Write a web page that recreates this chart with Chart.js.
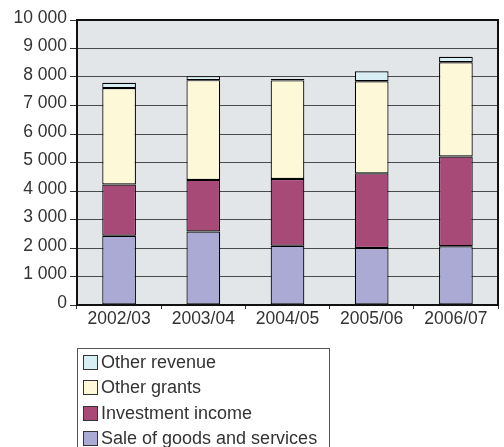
<!DOCTYPE html>
<html>
<head>
<meta charset="utf-8">
<script src="https://cdn.jsdelivr.net/npm/chart.js@4"></script>
<style>
  html, body { margin: 0; padding: 0; background: #fff; }
  #wrap { position: relative; width: 504px; height: 447px; overflow: hidden; }
  #legend {
    position: absolute; left: 77px; top: 348px; width: 253px; height: 120px;
    border: 1px solid #555; box-sizing: border-box; padding-top: 1px;
    font-family: "Liberation Sans", Arial, sans-serif; font-size: 18px; color: #333;
  }
  .item { height: 25.3px; display: flex; align-items: center; padding-left: 5px; }
  .swatch { width: 13px; height: 13px; border: 1px solid #333; margin-right: 3px; }
</style>
</head>
<body>
<div id="wrap">
  <canvas id="chart" width="504" height="447"></canvas>
  <div id="legend"></div>
</div>
<script>
// données
const categories = ['2002/03', '2003/04', '2004/05', '2005/06', '2006/07'];
const saleOfGoods = [2430, 2580, 2080, 2000, 2060];
const investmentIncome = [1800, 1810, 2340, 2620, 3150];
const otherGrants = [3380, 3500, 3460, 3230, 3310];
const otherRevenue = [190, 140, 50, 350, 190];
const yTicks = [0, 1000, 2000, 3000, 4000, 5000, 6000, 7000, 8000, 9000, 10000];

const FONT = '"Liberation Sans", Arial, sans-serif';
const TEXT = '#333';

function fmt(v) {
    return String(v).replace(/\B(?=(\d{3})+(?!\d))/g, ' ');
}

// fond gris + cadre noir autour de la zone de tracé
const framePlugin = {
    id: 'frame',
    beforeDraw(chart) {
        const a = chart.chartArea, c = chart.ctx;
        c.save();
        c.fillStyle = '#e3e6e8';
        c.fillRect(a.left, a.top, a.right - a.left, a.bottom - a.top);
        c.restore();
    },
    afterDraw(chart) {
        const a = chart.chartArea, c = chart.ctx;
        c.save();
        c.strokeStyle = '#111';
        c.lineWidth = 2;
        c.strokeRect(a.left, a.top, a.right - a.left, a.bottom - a.top);
        c.restore();
    }
};

const bar = (label, data, color) => ({
    label, data,
    backgroundColor: color,
    borderColor: '#000',
    borderWidth: 1.2,
    borderSkipped: false,
    barPercentage: 0.4,
    categoryPercentage: 1.0
});

const chart = new Chart(document.getElementById('chart'), {
    type: 'bar',
    data: {
        labels: categories,
        datasets: [
            bar('Sale of goods and services', saleOfGoods, '#aaaad4'),
            bar('Investment income', investmentIncome, '#a84a78'),
            bar('Other grants', otherGrants, '#fcf8d8'),
            bar('Other revenue', otherRevenue, '#d6eef4')
        ]
    },
    options: {
        responsive: false,
        animation: false,
        layout: { padding: { top: 20, right: 6, bottom: 117, left: 0 } },
        plugins: { legend: { display: false }, tooltip: { enabled: false } },
        scales: {
            x: {
                stacked: true,
                offset: true,
                grid: { offset: true, drawOnChartArea: false, drawTicks: true, tickLength: 4, color: '#333' },
                border: { display: true, color: '#111', width: 2 },
                ticks: { color: TEXT, font: { family: FONT, size: 17.5 }, padding: 0, maxRotation: 0 }
            },
            y: {
                stacked: true,
                min: 0,
                max: 10000,
                afterBuildTicks: (s) => { s.ticks = yTicks.map(v => ({ value: v })); },
                afterFit: (s) => { s.width = 77; },
                grid: { color: '#4a4a4a', lineWidth: 1, drawTicks: true, tickLength: 7, tickColor: '#333' },
                border: { display: true, color: '#111', width: 2 },
                ticks: {
                    color: TEXT, font: { family: FONT, size: 17.5 }, padding: 3, labelOffset: -2,
                    callback: (v) => fmt(v)
                }
            }
        }
    },
    plugins: [framePlugin]
});

// légende HTML, ordre inversé de l'empilement
const legend = document.getElementById('legend');
chart.data.datasets.slice().reverse().forEach(ds => {
    const row = document.createElement('div');
    row.className = 'item';
    row.innerHTML = `<span class="swatch" style="background:${ds.backgroundColor}"></span>${ds.label}`;
    legend.appendChild(row);
});
</script>
</body>
</html>
